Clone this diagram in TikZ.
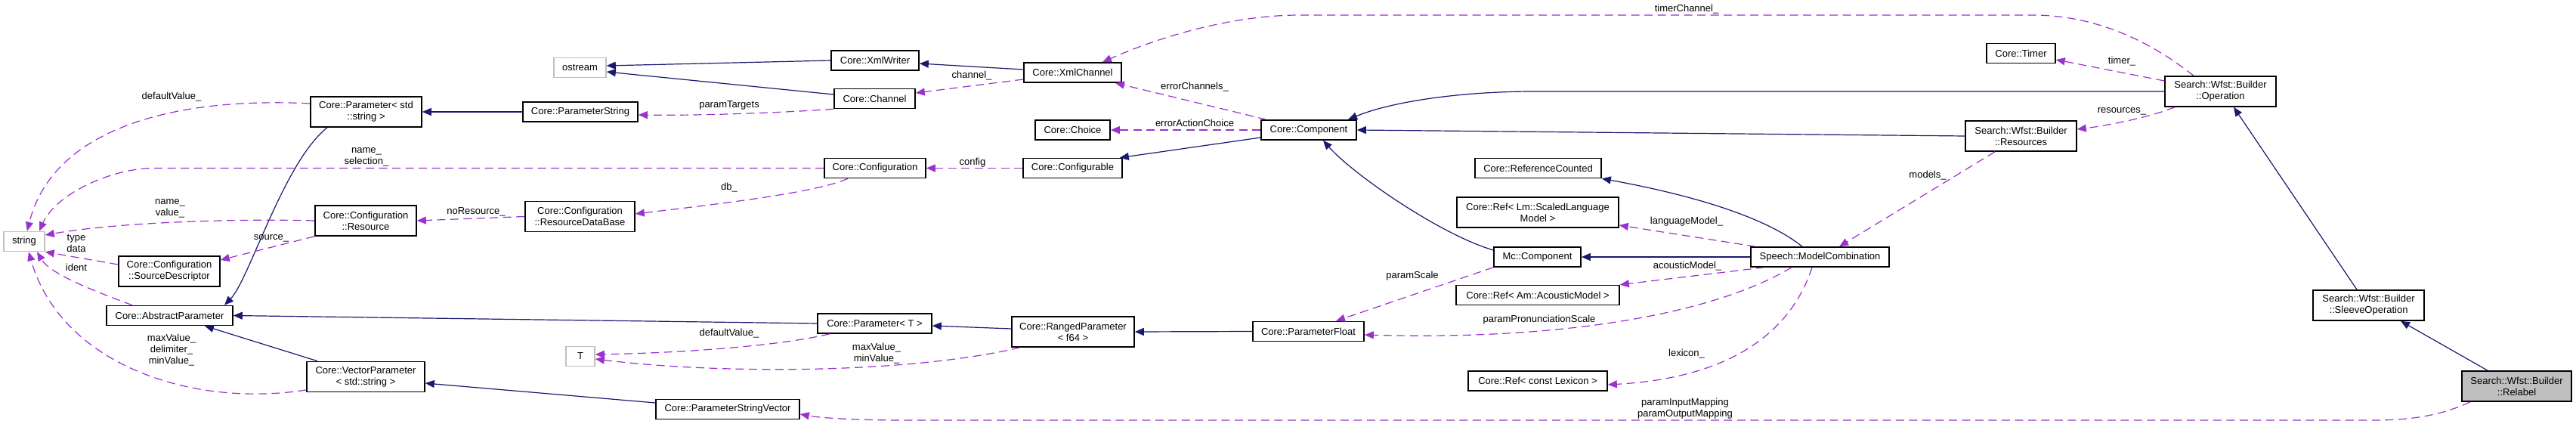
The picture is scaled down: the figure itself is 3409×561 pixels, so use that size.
\documentclass[tikz,border=0pt]{standalone}
\usepackage{fontspec}
\setmainfont{Liberation Sans}
\usepackage{tikz}
\usetikzlibrary{arrows.meta}
\definecolor{midnightblue}{RGB}{25, 25, 112}
\definecolor{darkorchid}{RGB}{154, 50, 205}
\definecolor{grey75}{RGB}{191, 191, 191}

\begin{document}
\begin{tikzpicture}[
    x=0.5pt, y=-0.5pt,
    block/.style={rectangle, draw=black, line width=0.8pt, fill=white, inner sep=0pt,
                  minimum height=13pt, align=center, font=\fontsize{6.5pt}{7.5pt}\selectfont},
    tall/.style={minimum height=20pt},
    extern/.style={block, draw=grey75},
    current/.style={block, fill=grey75},
    inherit/.style={-{Triangle[length=6pt, width=5pt]}, line width=0.6pt, color=midnightblue},
    member/.style={-{Triangle[length=6pt, width=5pt]}, line width=0.6pt, color=darkorchid,
                   dash pattern=on 5.5pt off 3.25pt},
    lbl/.style={inner sep=0pt, align=center, font=\fontsize{6.5pt}{7.5pt}\selectfont},
]
    \useasboundingbox (0,0) rectangle (3409,561);

    % external types
    \node[extern, minimum width=27pt] (string) at (32, 319.5) {string};
    \node[extern, minimum width=34.5pt] (ostream) at (767.5, 89.5) {ostream};
    \node[extern, minimum width=19pt] (tparam) at (768, 471.5) {T};

    % parameters
    \node[block, tall, minimum width=73.5pt] (paramstr) at (484.5, 148) {Core::Parameter< std\\::string >};
    \node[block, minimum width=76pt] (paramstring) at (768, 148) {Core::ParameterString};
    \node[block, minimum width=83.5pt] (absparam) at (224.5, 417.5) {Core::AbstractParameter};
    \node[block, tall, minimum width=78pt] (vecparam) at (484, 498.5) {Core::VectorParameter\\< std::string >};
    \node[block, minimum width=95pt] (paramstrvec) at (963, 541.5) {Core::ParameterStringVector};
    \node[block, minimum width=75.5pt] (paramT) at (1157.5, 428) {Core::Parameter< T >};
    \node[block, tall, minimum width=81pt] (ranged) at (1420, 439) {Core::RangedParameter\\< f64 >};
    \node[block, minimum width=73.5pt] (paramfloat) at (1731.5, 438.5) {Core::ParameterFloat};

    % configuration
    \node[block, tall, minimum width=67pt] (resource) at (484, 292) {Core::Configuration\\::Resource};
    \node[block, tall, minimum width=67pt] (srcdesc) at (224, 359) {Core::Configuration\\::SourceDescriptor};
    \node[block, tall, minimum width=72.5pt] (resdb) at (767.5, 286.5) {Core::Configuration\\::ResourceDataBase};
    \node[block, minimum width=67pt] (config) at (1158, 222.5) {Core::Configuration};
    \node[block, minimum width=65.5pt] (configurable) at (1419.5, 222.5) {Core::Configurable};

    % channels and component
    \node[block, minimum width=58pt] (xmlwriter) at (1158, 80) {Core::XmlWriter};
    \node[block, minimum width=64.5pt] (xmlchannel) at (1419.5, 96) {Core::XmlChannel};
    \node[block, minimum width=53.5pt] (channel) at (1157.5, 130.5) {Core::Channel};
    \node[block, minimum width=49.5pt] (choice) at (1419.5, 172) {Core::Choice};
    \node[block, minimum width=63pt] (component) at (1732, 172) {Core::Component};

    % speech models
    \node[block, minimum width=83.5pt] (refcount) at (2035.5, 222.5) {Core::ReferenceCounted};
    \node[block, tall, minimum width=107pt] (reflm) at (2035, 281) {Core::Ref< Lm::ScaledLanguage\\Model >};
    \node[block, minimum width=57.5pt] (mccomp) at (2034.5, 340) {Mc::Component};
    \node[block, minimum width=108pt] (refam) at (2035, 390.5) {Core::Ref< Am::AcousticModel >};
    \node[block, minimum width=92pt] (reflex) at (2035, 504) {Core::Ref< const Lexicon >};
    \node[block, minimum width=91.5pt] (modelcomb) at (2408.5, 340) {Speech::ModelCombination};

    % builder
    \node[block, minimum width=45.5pt] (timer) at (2674.5, 70.5) {Core::Timer};
    \node[block, tall, minimum width=73.5pt] (resources) at (2674.5, 180) {Search::Wfst::Builder\\::Resources};
    \node[block, tall, minimum width=73.5pt] (operation) at (2938.5, 121) {Search::Wfst::Builder\\::Operation};
    \node[block, tall, minimum width=73.5pt] (sleeve) at (3134.5, 404) {Search::Wfst::Builder\\::SleeveOperation};
    \node[current, tall, minimum width=72.5pt] (relabel) at (3330.5, 511) {Search::Wfst::Builder\\::Relabel};

    % Inheritance
    \draw[inherit] (xmlwriter.west) -- ([yshift=1.25pt]ostream.east);
    \draw[inherit] ([yshift=2.75pt]channel.west) -- ([yshift=-2.75pt]ostream.east);
    \draw[inherit] ([yshift=2pt]xmlchannel.west) -- ([yshift=-2pt]xmlwriter.east);
    \draw[inherit] (paramstring.west) -- (paramstr.east);
    \draw[inherit] ([xshift=-25.75pt]paramstr.south) .. controls (375,215) and (330,370) .. ([xshift=36.25pt]absparam.north);
    \draw[inherit] (paramT.west) -- (absparam.east);
    \draw[inherit] ([xshift=-32pt]vecparam.north) -- ([xshift=23.25pt]absparam.south);
    \draw[inherit] ([yshift=4.25pt]paramstrvec.west) -- ([yshift=-4.25pt]vecparam.east);
    \draw[inherit] ([yshift=2pt]ranged.west) -- ([yshift=-1.5pt]paramT.east);
    \draw[inherit] (paramfloat.west) -- (ranged.east);
    \draw[inherit] ([yshift=-5pt]component.west) -- ([xshift=-2pt]configurable.north east);
    \draw[inherit] (operation.west) -- (2031,121) .. controls (1930,121) and (1840,135) .. ([xshift=26pt]component.north);
    \draw[inherit] (resources.west) -- (component.east);
    \draw[inherit] ([yshift=4.5pt]mccomp.west) .. controls (1905,310) and (1790,230) .. ([xshift=9.5pt]component.south);
    \draw[inherit] (modelcomb.west) -- (mccomp.east);
    \draw[inherit] ([xshift=-11.75pt]modelcomb.north) .. controls (2340,290) and (2250,260) .. (refcount.south east);
    \draw[inherit] ([xshift=-7.75pt]sleeve.north) -- ([xshift=8.75pt]operation.south);
    \draw[inherit] ([xshift=-19.25pt]relabel.north) -- ([xshift=21.25pt]sleeve.south);

    % Members
    \draw[member] ([yshift=5.5pt]paramstr.west) .. controls (230,128) and (70,170) .. ([xshift=2pt]string.north);
    \draw[member] (config.west) -- (203,222.5) .. controls (150,222.5) and (75,255) .. ([xshift=10pt]string.north);
    \draw[member] (resource.west) .. controls (300,289) and (150,295) .. ([yshift=4.25pt]string.east);
    \draw[member] ([yshift=4.5pt]srcdesc.west) -- (string.south east);
    \draw[member] ([xshift=-24.75pt]absparam.north) .. controls (110,380) and (65,360) .. ([xshift=8.5pt]string.south);
    \draw[member] ([yshift=-8.75pt]vecparam.west) .. controls (250,540) and (80,480) .. ([xshift=3pt]string.south);
    \draw[member] (resdb.west) -- (resource.east);
    \draw[member] (resource.south west) -- ([yshift=7.5pt]srcdesc.east);
    \draw[member] ([xshift=-18pt]config.south) .. controls (1080,255) and (950,270) .. ([yshift=1.75pt]resdb.east);
    \draw[member] (channel.south west) .. controls (1020,150) and (920,153) .. ([yshift=-2pt]paramstring.east);
    \draw[member] ([yshift=-4.5pt]xmlchannel.west) -- ([yshift=3.75pt]channel.east);
    \draw[member] ([xshift=-28pt]component.north) -- ([xshift=28.25pt]xmlchannel.south);
    \draw[member] (component.west) -- (choice.east);
    \draw[member] (configurable.west) -- (config.east);
    \draw[member] ([xshift=-17.75pt]operation.north) .. controls (2865,70) and (2790,20) .. (2690,20) -- (1720,20) .. controls (1620,20) and (1520,55) .. ([xshift=19.75pt]xmlchannel.north);
    \draw[member] ([yshift=7pt]operation.west) -- ([yshift=-4.25pt]timer.east);
    \draw[member] ([xshift=-30.25pt]operation.south) .. controls (2845,155) and (2790,166) .. ([yshift=4.5pt]resources.east);
    \draw[member] ([xshift=-17.25pt]resources.south) -- ([xshift=12.75pt]modelcomb.north);
    \draw[member] ([xshift=3.5pt]modelcomb.north west) -- ([yshift=-8.5pt]reflm.east);
    \draw[member] ([xshift=-36.75pt]modelcomb.south) -- (refam.north east);
    \draw[member] ([xshift=-18.75pt]modelcomb.south) .. controls (2260,420) and (2050,450) .. ([yshift=-2.25pt]paramfloat.east);
    \draw[member] (mccomp.south west) -- ([xshift=18.25pt]paramfloat.north);
    \draw[member] ([xshift=-5.25pt]modelcomb.south) .. controls (2370,440) and (2290,500) .. ([yshift=-2.5pt]reflex.east);
    \draw[member] ([xshift=-35pt]ranged.south) .. controls (1200,495) and (950,495) .. ([yshift=-1.75pt]tparam.east);
    \draw[member] ([xshift=-29.75pt]paramT.south) .. controls (1030,458) and (900,467) .. ([yshift=1.25pt]tparam.east);
    \draw[member] ([xshift=-30.75pt]relabel.south) .. controls (3230,550) and (3190,556) .. (3140,556) -- (1200,556) .. controls (1120,556) and (1080,552) .. ([yshift=-3.25pt]paramstrvec.east);

    % Member labels
    \node[lbl] (l-defstr) at (227,128) {defaultValue\_};
    \node[lbl] (l-namesel) at (485,207.5) {name\_\\selection\_};
    \node[lbl] (l-nameval) at (225,275.5) {name\_\\value\_};
    \node[lbl] (l-typedata) at (101,321.5) {type\\data};
    \node[lbl] (l-ident) at (101,354) {ident};
    \node[lbl] (l-maxdel) at (227,463.5) {maxValue\_\\delimiter\_\\minValue\_};
    \node[lbl] (l-nores) at (630,280) {noResource\_};
    \node[lbl] (l-source) at (359,315) {source\_};
    \node[lbl] (l-db) at (965,248) {db\_};
    \node[lbl] (l-targets) at (965,139) {paramTargets};
    \node[lbl] (l-channel) at (1286,100) {channel\_};
    \node[lbl] (l-errch) at (1581,115) {errorChannels\_};
    \node[lbl] (l-errac) at (1581,163) {errorActionChoice};
    \node[lbl] (l-config) at (1287,215) {config};
    \node[lbl] (l-timerch) at (2232,12) {timerChannel\_};
    \node[lbl] (l-timer) at (2808,81) {timer\_};
    \node[lbl] (l-res) at (2808,147) {resources\_};
    \node[lbl] (l-models) at (2551,232) {models\_};
    \node[lbl] (l-lm) at (2232,293) {languageModel\_};
    \node[lbl] (l-am) at (2233,352) {acousticModel\_};
    \node[lbl] (l-pron) at (2037,423) {paramPronunciationScale};
    \node[lbl] (l-scale) at (1869,365) {paramScale};
    \node[lbl] (l-lex) at (2232,468) {lexicon\_};
    \node[lbl] (l-maxmin) at (1160,467.5) {maxValue\_\\minValue\_};
    \node[lbl] (l-defT) at (965,441) {defaultValue\_};
    \node[lbl] (l-mapping) at (2230,540.5) {paramInputMapping\\paramOutputMapping};
\end{tikzpicture}
\end{document}
